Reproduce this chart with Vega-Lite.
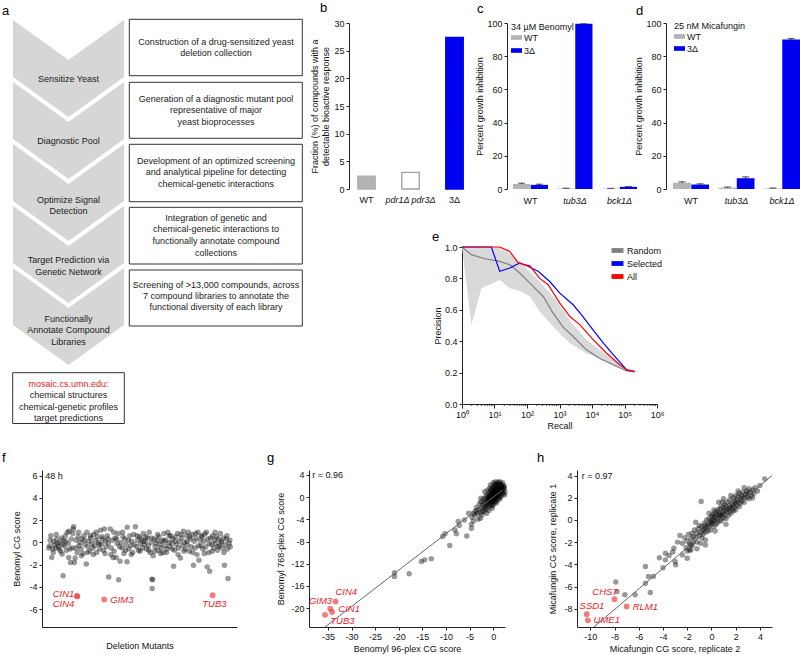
{
  "$schema": "https://vega.github.io/schema/vega-lite/v6.json",
  "background": "white",
  "padding": 0,
  "autosize": {"type": "none"},
  "width": 800,
  "height": 655,
  "resolve": {
    "scale": {"x": "independent", "y": "independent", "fill": "independent", "stroke": "independent", "color": "independent", "xOffset": "independent", "opacity": "independent", "size": "independent"},
    "axis": {"x": "independent", "y": "independent"},
    "legend": {"fill": "independent", "stroke": "independent", "color": "independent"}
  },
  "config": {
    "view": {"stroke": null},
    "font": "Liberation Sans",
    "text": {"font": "Liberation Sans"},
    "axis": {"labelFont": "Liberation Sans", "titleFont": "Liberation Sans", "labelFontSize": 9, "titleFontSize": 9, "titleFontWeight": "normal", "labelColor": "#111", "titleColor": "#111", "domainColor": "#222", "tickColor": "#222", "tickSize": 3, "labelPadding": 2, "grid": false, "labelFlush": false, "labelOverlap": false},
    "legend": {"labelFont": "Liberation Sans", "titleFont": "Liberation Sans", "labelFontSize": 9, "titleFontSize": 9, "titleFontWeight": "normal", "labelColor": "#111", "titleColor": "#111", "padding": 0}
  },
  "layer": [
    {
      "layer": [
        {
          "data": {"values": [
            {"chev": 1, "px": 13, "yt": 20, "yb": 77}, {"chev": 1, "px": 68.5, "yt": 60, "yb": 117}, {"chev": 1, "px": 124, "yt": 20, "yb": 77},
            {"chev": 2, "px": 13, "yt": 82, "yb": 139}, {"chev": 2, "px": 68.5, "yt": 122, "yb": 179}, {"chev": 2, "px": 124, "yt": 82, "yb": 139},
            {"chev": 3, "px": 13, "yt": 144, "yb": 201}, {"chev": 3, "px": 68.5, "yt": 184, "yb": 241}, {"chev": 3, "px": 124, "yt": 144, "yb": 201},
            {"chev": 4, "px": 13, "yt": 206, "yb": 263}, {"chev": 4, "px": 68.5, "yt": 246, "yb": 303}, {"chev": 4, "px": 124, "yt": 206, "yb": 263},
            {"chev": 5, "px": 13, "yt": 268, "yb": 325}, {"chev": 5, "px": 68.5, "yt": 308, "yb": 365}, {"chev": 5, "px": 124, "yt": 268, "yb": 325}
          ]},
          "mark": {"type": "area", "color": "#d6d6d6", "interpolate": "linear"},
          "encoding": {
            "x": {"field": "px", "type": "quantitative", "scale": {"domain": [0, 800], "range": [0, 800], "nice": false, "zero": false}, "axis": null},
            "y": {"field": "yt", "type": "quantitative", "scale": {"domain": [0, 655], "range": [0, 655], "nice": false, "zero": false}, "axis": null, "stack": null},
            "y2": {"field": "yb"},
            "detail": {"field": "chev", "type": "nominal"}
          }
        },
        {
          "data": {"values": [
            {"x1": 129.3, "x2": 302.3, "y1": 19.3, "y2": 75.7},
            {"x1": 129.3, "x2": 302.3, "y1": 82.3, "y2": 138.3},
            {"x1": 129.3, "x2": 302.3, "y1": 144.3, "y2": 201.7},
            {"x1": 129.3, "x2": 302.3, "y1": 207.3, "y2": 264},
            {"x1": 129.3, "x2": 302.3, "y1": 270, "y2": 326},
            {"x1": 12.7, "x2": 124.3, "y1": 372.7, "y2": 423.5}
          ]},
          "mark": {"type": "rect", "fill": "white", "stroke": "#333", "strokeWidth": 1},
          "encoding": {
            "x": {"field": "x1", "type": "quantitative"},
            "x2": {"field": "x2"},
            "y": {"field": "y1", "type": "quantitative"},
            "y2": {"field": "y2"}
          }
        },
        {
          "data": {"values": [
            {"tx": 68.5, "ty": 79, "t": "Sensitize Yeast", "k": "s"},
            {"tx": 68.5, "ty": 140.7, "t": "Diagnostic Pool", "k": "s"},
            {"tx": 68.5, "ty": 199.7, "t": "Optimize Signal", "k": "s"},
            {"tx": 68.5, "ty": 211.2, "t": "Detection", "k": "s"},
            {"tx": 68.5, "ty": 260.3, "t": "Target Prediction via", "k": "s"},
            {"tx": 68.5, "ty": 272, "t": "Genetic Network", "k": "s"},
            {"tx": 68.5, "ty": 318.7, "t": "Functionally", "k": "s"},
            {"tx": 68.5, "ty": 330.3, "t": "Annotate Compound", "k": "s"},
            {"tx": 68.5, "ty": 341.7, "t": "Libraries", "k": "s"},
            {"tx": 216, "ty": 41.7, "t": "Construction of a drug-sensitized yeast", "k": "s"},
            {"tx": 216, "ty": 53.3, "t": "deletion collection", "k": "s"},
            {"tx": 216, "ty": 98.7, "t": "Generation of a diagnostic mutant pool", "k": "s"},
            {"tx": 216, "ty": 110.3, "t": "representative of major", "k": "s"},
            {"tx": 216, "ty": 122, "t": "yeast bioprocesses", "k": "s"},
            {"tx": 216, "ty": 160.7, "t": "Development of an optimized screening", "k": "s"},
            {"tx": 216, "ty": 172.3, "t": "and analytical pipeline for detecting", "k": "s"},
            {"tx": 216, "ty": 184, "t": "chemical-genetic interactions", "k": "s"},
            {"tx": 216, "ty": 217.7, "t": "Integration of genetic and", "k": "s"},
            {"tx": 216, "ty": 229.3, "t": "chemical-genetic interactions to", "k": "s"},
            {"tx": 216, "ty": 241, "t": "functionally annotate compound", "k": "s"},
            {"tx": 216, "ty": 252.7, "t": "collections", "k": "s"},
            {"tx": 216, "ty": 284.7, "t": "Screening of >13,000 compounds, across", "k": "s"},
            {"tx": 216, "ty": 296, "t": "7 compound libraries to annotate the", "k": "s"},
            {"tx": 216, "ty": 307.3, "t": "functional diversity of each library", "k": "s"},
            {"tx": 68.5, "ty": 383.5, "t": "mosaic.cs.umn.edu:", "k": "url"},
            {"tx": 68.5, "ty": 395, "t": "chemical structures", "k": "s"},
            {"tx": 68.5, "ty": 406.5, "t": "chemical-genetic profiles", "k": "s"},
            {"tx": 68.5, "ty": 418, "t": "target predictions", "k": "s"}
          ]},
          "mark": {"type": "text", "fontSize": 9, "align": "center", "baseline": "middle"},
          "encoding": {
            "x": {"field": "tx", "type": "quantitative"},
            "y": {"field": "ty", "type": "quantitative"},
            "text": {"field": "t"},
            "color": {"condition": {"test": "datum.k === 'url'", "value": "#e3201b"}, "value": "#1a1a1a"}
          }
        },
        {
          "data": {"values": [
            {"tx": 2, "ty": 15, "t": "a"}, {"tx": 320, "ty": 12, "t": "b"}, {"tx": 477, "ty": 13, "t": "c"}, {"tx": 636, "ty": 14.5, "t": "d"},
            {"tx": 432, "ty": 240.5, "t": "e"}, {"tx": 2, "ty": 462, "t": "f"}, {"tx": 267, "ty": 462, "t": "g"}, {"tx": 537, "ty": 462, "t": "h"}
          ]},
          "mark": {"type": "text", "fontSize": 13, "align": "left", "baseline": "alphabetic", "color": "#000"},
          "encoding": {
            "x": {"field": "tx", "type": "quantitative"},
            "y": {"field": "ty", "type": "quantitative"},
            "text": {"field": "t"}
          }
        }
      ]
    },
    {
      "data": {"values": [
        {"strain": "WT", "frac": 2.3},
        {"strain": "pdr1Δ pdr3Δ", "frac": 3.0},
        {"strain": "3Δ", "frac": 27.4}
      ]},
      "mark": {"type": "bar", "strokeWidth": 1.3},
      "encoding": {
        "x": {"field": "strain", "type": "nominal", "sort": null,
          "scale": {"range": [349, 507], "paddingInner": 0.602, "paddingOuter": 0.5965, "align": 0.167, "round": false},
          "axis": {"orient": "bottom", "offset": -466, "title": null, "labelAngle": 0, "domain": false, "ticks": false, "labelPadding": 6,
            "labelFontStyle": {"condition": {"test": "datum.value === 'pdr1Δ pdr3Δ'", "value": "italic"}, "value": "normal"}}},
        "y": {"field": "frac", "type": "quantitative", "scale": {"domain": [0, 30], "range": [189, 23], "nice": false},
          "axis": {"orient": "left", "offset": -349, "values": [0, 5, 10, 15, 20, 25, 30], "title": ["Fraction (%) of compounds with a", "detectable bioactive response"], "titlePadding": 3}},
        "fill": {"field": "strain", "type": "nominal", "scale": {"domain": ["WT", "pdr1Δ pdr3Δ", "3Δ"], "range": ["#b3b3b3", "#ffffff", "#0000f0"]}, "legend": null},
        "stroke": {"field": "strain", "type": "nominal", "scale": {"domain": ["WT", "pdr1Δ pdr3Δ", "3Δ"], "range": ["#b3b3b3", "#a0a0a0", "#0000f0"]}, "legend": null}
      }
    },
    {
      "data": {"values": [
        {"strain": "WT", "cond": "WT", "v": 3.0, "e": 3.5},
        {"strain": "WT", "cond": "3Δ", "v": 2.5, "e": 2.9},
        {"strain": "tub3Δ", "cond": "WT", "v": 0.3, "e": 0.5},
        {"strain": "tub3Δ", "cond": "3Δ", "v": 99.5, "e": 99.5},
        {"strain": "bck1Δ", "cond": "WT", "v": 0.2, "e": 0.4},
        {"strain": "bck1Δ", "cond": "3Δ", "v": 1.3, "e": 1.4}
      ]},
      "encoding": {
        "x": {"field": "strain", "type": "nominal", "sort": ["WT", "tub3Δ", "bck1Δ"],
          "scale": {"range": [507, 666], "paddingInner": 0.2135, "paddingOuter": 0.393, "align": 0.171, "round": false},
          "axis": {"orient": "bottom", "offset": -466, "title": null, "labelAngle": 0, "domain": false, "ticks": false, "labelPadding": 7,
            "labelFontStyle": {"condition": {"test": "datum.value !== 'WT'", "value": "italic"}, "value": "normal"}}},
        "xOffset": {"field": "cond", "type": "nominal", "sort": ["WT", "3Δ"], "scale": {"paddingInner": 0.03}}
      },
      "layer": [
        {
          "mark": {"type": "bar"},
          "encoding": {
            "y": {"field": "v", "type": "quantitative", "scale": {"domain": [0, 100], "range": [189, 23], "nice": false},
              "axis": {"orient": "left", "offset": -507, "values": [0, 20, 40, 60, 80, 100], "title": "Percent growth inhibition", "titlePadding": 2}},
            "fill": {"field": "cond", "type": "nominal", "sort": ["WT", "3Δ"], "scale": {"domain": ["WT", "3Δ"], "range": ["#b3b3b3", "#0000f0"]},
              "legend": {"title": "34 µM Benomyl", "orient": "none", "legendX": 511, "legendY": 23, "symbolType": "M-1,-0.42L1,-0.42L1,0.42L-1,0.42Z", "symbolSize": 121, "symbolStrokeWidth": 0, "titlePadding": 0, "rowPadding": 2, "labelOffset": 2, "titleLimit": 200}}
          }
        },
        {
          "mark": {"type": "rule", "color": "#000", "strokeWidth": 1},
          "encoding": {"y": {"field": "v", "type": "quantitative"}, "y2": {"field": "e"}}
        },
        {
          "mark": {"type": "tick", "color": "#000", "thickness": 1, "size": 7},
          "encoding": {"y": {"field": "e", "type": "quantitative"}}
        }
      ]
    },
    {
      "data": {"values": [
        {"strain": "WT", "cond": "WT", "v": 3.8, "e": 4.3},
        {"strain": "WT", "cond": "3Δ", "v": 2.7, "e": 3.1},
        {"strain": "tub3Δ", "cond": "WT", "v": 0.8, "e": 1.2},
        {"strain": "tub3Δ", "cond": "3Δ", "v": 6.5, "e": 7.3},
        {"strain": "bck1Δ", "cond": "WT", "v": 0.3, "e": 0.6},
        {"strain": "bck1Δ", "cond": "3Δ", "v": 90.0, "e": 90.6}
      ]},
      "encoding": {
        "x": {"field": "strain", "type": "nominal", "sort": ["WT", "tub3Δ", "bck1Δ"],
          "scale": {"range": [666, 800], "paddingInner": 0.209, "paddingOuter": 0.077, "align": 1, "round": false},
          "axis": {"orient": "bottom", "offset": -466, "title": null, "labelAngle": 0, "domain": false, "ticks": false, "labelPadding": 7,
            "labelFontStyle": {"condition": {"test": "datum.value !== 'WT'", "value": "italic"}, "value": "normal"}}},
        "xOffset": {"field": "cond", "type": "nominal", "sort": ["WT", "3Δ"], "scale": {"paddingInner": 0.03}}
      },
      "layer": [
        {
          "mark": {"type": "bar"},
          "encoding": {
            "y": {"field": "v", "type": "quantitative", "scale": {"domain": [0, 100], "range": [189, 23], "nice": false},
              "axis": {"orient": "left", "offset": -666, "values": [0, 20, 40, 60, 80, 100], "title": "Percent growth inhibition", "titlePadding": 2}},
            "fill": {"field": "cond", "type": "nominal", "sort": ["WT", "3Δ"], "scale": {"domain": ["WT", "3Δ"], "range": ["#b3b3b3", "#0000f0"]},
              "legend": {"title": "25 nM Micafungin", "orient": "none", "legendX": 674, "legendY": 22, "symbolType": "M-1,-0.42L1,-0.42L1,0.42L-1,0.42Z", "symbolSize": 121, "symbolStrokeWidth": 0, "titlePadding": 0, "rowPadding": 1, "labelOffset": 2, "titleLimit": 200}}
          }
        },
        {
          "mark": {"type": "rule", "color": "#000", "strokeWidth": 1},
          "encoding": {"y": {"field": "v", "type": "quantitative"}, "y2": {"field": "e"}}
        },
        {
          "mark": {"type": "tick", "color": "#000", "thickness": 1, "size": 7},
          "encoding": {"y": {"field": "e", "type": "quantitative"}}
        }
      ]
    },
    {
      "layer": [
        {
          "data": {"values": [
            {"r": 1, "lo": 1, "hi": 1}, {"r": 1.95, "lo": 0.504, "hi": 1}, {"r": 4, "lo": 0.738, "hi": 1},
            {"r": 14.5, "lo": 0.79, "hi": 1}, {"r": 29.5, "lo": 0.738, "hi": 0.96}, {"r": 60, "lo": 0.72, "hi": 0.91},
            {"r": 123, "lo": 0.685, "hi": 0.84}, {"r": 245, "lo": 0.589, "hi": 0.78}, {"r": 794, "lo": 0.472, "hi": 0.66},
            {"r": 2090, "lo": 0.387, "hi": 0.53}, {"r": 6760, "lo": 0.323, "hi": 0.41}, {"r": 28200, "lo": 0.27, "hi": 0.31},
            {"r": 117500, "lo": 0.217, "hi": 0.222}, {"r": 186000, "lo": 0.206, "hi": 0.206}
          ]},
          "mark": {"type": "area", "color": "#d9d9d9"},
          "encoding": {
            "x": {"field": "r", "type": "quantitative", "scale": {"type": "log", "domain": [1, 1000000], "range": [462, 657], "nice": false},
              "axis": {"orient": "bottom", "offset": -251, "values": [1, 10, 100, 1000, 10000, 100000, 1000000], "labelExpr": "'10' + ['⁰','¹','²','³','⁴','⁵','⁶'][round(log(datum.value)/LN10)]", "title": "Recall", "tickSize": 4, "titlePadding": 2}},
            "y": {"field": "lo", "type": "quantitative", "scale": {"domain": [0, 1], "range": [404, 247], "nice": false}, "stack": null,
              "axis": {"orient": "left", "offset": -462, "values": [0, 0.2, 0.4, 0.6, 0.8, 1], "format": ".1f", "title": "Precision", "titlePadding": 2}},
            "y2": {"field": "hi"}
          }
        },
        {
          "data": {"values": [
            {"m": 2}, {"m": 3}, {"m": 4}, {"m": 5}, {"m": 6}, {"m": 7}, {"m": 8}, {"m": 9},
            {"m": 20}, {"m": 30}, {"m": 40}, {"m": 50}, {"m": 60}, {"m": 70}, {"m": 80}, {"m": 90},
            {"m": 200}, {"m": 300}, {"m": 400}, {"m": 500}, {"m": 600}, {"m": 700}, {"m": 800}, {"m": 900},
            {"m": 2000}, {"m": 3000}, {"m": 4000}, {"m": 5000}, {"m": 6000}, {"m": 7000}, {"m": 8000}, {"m": 9000},
            {"m": 20000}, {"m": 30000}, {"m": 40000}, {"m": 50000}, {"m": 60000}, {"m": 70000}, {"m": 80000}, {"m": 90000},
            {"m": 200000}, {"m": 300000}, {"m": 400000}, {"m": 500000}, {"m": 600000}, {"m": 700000}, {"m": 800000}, {"m": 900000}
          ]},
          "mark": {"type": "rule", "color": "#222", "strokeWidth": 0.8},
          "encoding": {
            "x": {"field": "m", "type": "quantitative"},
            "y": {"datum": 0, "type": "quantitative"},
            "y2": {"datum": -0.013}
          }
        },
        {
          "data": {"values": [
            {"r": 1, "p": 1, "s": "Random"}, {"r": 1.95, "p": 0.951, "s": "Random"}, {"r": 5, "p": 0.925, "s": "Random"}, {"r": 14.5, "p": 0.908, "s": "Random"},
            {"r": 29.5, "p": 0.887, "s": "Random"}, {"r": 60, "p": 0.834, "s": "Random"}, {"r": 123, "p": 0.77, "s": "Random"}, {"r": 316, "p": 0.685, "s": "Random"},
            {"r": 631, "p": 0.58, "s": "Random"}, {"r": 1290, "p": 0.49, "s": "Random"}, {"r": 2630, "p": 0.43, "s": "Random"}, {"r": 6760, "p": 0.345, "s": "Random"},
            {"r": 17400, "p": 0.29, "s": "Random"}, {"r": 45700, "p": 0.249, "s": "Random"}, {"r": 117500, "p": 0.21, "s": "Random"}, {"r": 186000, "p": 0.206, "s": "Random"},
            {"r": 1, "p": 1, "s": "Selected"}, {"r": 8, "p": 1, "s": "Selected"}, {"r": 14.5, "p": 0.845, "s": "Selected"}, {"r": 29.5, "p": 0.866, "s": "Selected"},
            {"r": 60, "p": 0.898, "s": "Selected"}, {"r": 107, "p": 0.877, "s": "Selected"}, {"r": 219, "p": 0.845, "s": "Selected"}, {"r": 501, "p": 0.78, "s": "Selected"},
            {"r": 1023, "p": 0.706, "s": "Selected"}, {"r": 2630, "p": 0.632, "s": "Selected"}, {"r": 4790, "p": 0.568, "s": "Selected"}, {"r": 9770, "p": 0.483, "s": "Selected"},
            {"r": 22400, "p": 0.387, "s": "Selected"}, {"r": 45700, "p": 0.313, "s": "Selected"}, {"r": 117500, "p": 0.217, "s": "Selected"}, {"r": 209000, "p": 0.206, "s": "Selected"},
            {"r": 1, "p": 1, "s": "All"}, {"r": 14.5, "p": 1, "s": "All"}, {"r": 29.5, "p": 0.972, "s": "All"}, {"r": 54, "p": 0.898, "s": "All"},
            {"r": 123, "p": 0.88, "s": "All"}, {"r": 245, "p": 0.8, "s": "All"}, {"r": 447, "p": 0.76, "s": "All"}, {"r": 1023, "p": 0.643, "s": "All"},
            {"r": 2090, "p": 0.557, "s": "All"}, {"r": 4270, "p": 0.504, "s": "All"}, {"r": 11000, "p": 0.408, "s": "All"}, {"r": 28200, "p": 0.323, "s": "All"},
            {"r": 72400, "p": 0.249, "s": "All"}, {"r": 117500, "p": 0.217, "s": "All"}, {"r": 209000, "p": 0.206, "s": "All"}
          ]},
          "mark": {"type": "line", "strokeWidth": 1.2},
          "encoding": {
            "x": {"field": "r", "type": "quantitative"},
            "y": {"field": "p", "type": "quantitative"},
            "color": {"field": "s", "type": "nominal", "sort": ["Random", "Selected", "All"], "scale": {"domain": ["Random", "Selected", "All"], "range": ["#808080", "#0000ff", "#ff0000"]},
              "legend": {"title": null, "orient": "none", "legendX": 613, "legendY": 246, "symbolType": "M-1.6,-0.4L1.6,-0.4L1.6,0.4L-1.6,0.4Z", "symbolSize": 36, "symbolStrokeWidth": 2.4, "rowPadding": 0, "labelOffset": 5}}
          }
        }
      ]
    },
    {
      "layer": [
        {
          "data": {"values": [
            {"i":3.5,"s":-0.5},{"i":4,"s":-0.3},{"i":4.5,"s":0.6},{"i":5,"s":-1.35},{"i":5.5,"s":-0.6},{"i":6,"s":0.1},{"i":6.5,"s":-0.2},{"i":7,"s":-0.5},{"i":7.5,"s":0.3},{"i":8,"s":-0.1},
            {"i":8.5,"s":-0.4},{"i":9,"s":0},{"i":9.5,"s":-0.8},{"i":10,"s":0.4},{"i":10.3,"s":-1.05},{"i":10.8,"s":-3},{"i":11,"s":0.2},{"i":11.5,"s":-0.3},{"i":12,"s":0.6},{"i":12.5,"s":-0.7},
            {"i":13,"s":0.9},{"i":13.5,"s":-0.1},{"i":13.7,"s":-1.35},{"i":14,"s":1},{"i":14.6,"s":-1.8},{"i":15,"s":0.3},{"i":15.5,"s":-0.5},{"i":16,"s":1.2},{"i":16.2,"s":1.4},{"i":16.6,"s":-1.8},
            {"i":17,"s":-1.4},{"i":17.5,"s":0.2},{"i":18,"s":-0.9},{"i":18.5,"s":0.5},{"i":19,"s":-0.3},{"i":19.5,"s":0},{"i":20,"s":-0.6},{"i":20.5,"s":0.3},{"i":21,"s":-1},{"i":21.5,"s":0.6},
            {"i":22,"s":-0.2},{"i":22.7,"s":-1.95},{"i":23,"s":0.9},{"i":23.5,"s":-0.4},{"i":24,"s":0.1},{"i":24.5,"s":-0.8},{"i":25,"s":0.4},{"i":25.5,"s":-0.1},{"i":26,"s":-0.5},{"i":26.5,"s":0.7},
            {"i":27,"s":-0.3},{"i":27.5,"s":0.2},{"i":28,"s":-0.9},{"i":28.5,"s":0.5},{"i":29,"s":0},{"i":29.5,"s":-0.6},{"i":30,"s":1.1},{"i":30.5,"s":-0.2},{"i":31,"s":0.3},{"i":31.5,"s":-0.7},
            {"i":32,"s":1.2},{"i":32.5,"s":0.1},{"i":33,"s":-0.4},{"i":33.5,"s":0.6},{"i":34,"s":-0.1},{"i":34.2,"s":-3.1},{"i":35,"s":1.2},{"i":35.5,"s":-0.5},{"i":36,"s":0.2},{"i":36.4,"s":-1.35},
            {"i":37,"s":-0.8},{"i":37.5,"s":0.4},{"i":38,"s":-1.35},{"i":38.5,"s":-0.1},{"i":39,"s":0.8},{"i":39.3,"s":-3.35},{"i":40,"s":-1.7},{"i":40.5,"s":0},{"i":41,"s":-0.5},{"i":41.5,"s":0.5},
            {"i":42,"s":-1},{"i":42.5,"s":0.3},{"i":43,"s":-0.2},{"i":43.6,"s":-1.75},{"i":43.7,"s":1.35},{"i":44.5,"s":-0.6},{"i":45,"s":0.6},{"i":45.5,"s":-0.3},{"i":46,"s":0.1},{"i":46.5,"s":-0.9},
            {"i":47,"s":0.7},{"i":47.9,"s":1.4},{"i":48.5,"s":-0.4},{"i":49,"s":0.2},{"i":49.5,"s":-0.7},{"i":50,"s":0.5},{"i":50.5,"s":-0.1},{"i":51,"s":0.3},{"i":51.5,"s":-0.5},{"i":52,"s":0.8},
            {"i":52.5,"s":-0.2},{"i":53,"s":0.1},{"i":53.5,"s":-0.6},{"i":54,"s":0.4},{"i":54.5,"s":-0.3},{"i":55,"s":0.9},{"i":55.5,"s":-0.9},{"i":56,"s":0},{"i":56.4,"s":-3.3},{"i":56.7,"s":-3.35},
            {"i":56.5,"s":-4.15},{"i":57,"s":-1.2},{"i":57.5,"s":0.3},{"i":58,"s":-0.4},{"i":58.5,"s":-0.1},{"i":59,"s":0.2},{"i":59.5,"s":-0.7},{"i":60,"s":0.5},{"i":60.5,"s":-0.2},{"i":61,"s":-0.5},
            {"i":61.5,"s":0.1},{"i":62,"s":-0.9},{"i":62.5,"s":0.8},{"i":63,"s":-0.3},{"i":63.5,"s":0.2},{"i":64,"s":-0.6},{"i":64.5,"s":0.9},{"i":65,"s":0},{"i":65.5,"s":-0.4},{"i":66,"s":0.6},
            {"i":66.5,"s":-0.1},{"i":67,"s":0.3},{"i":67.5,"s":-2.15},{"i":68,"s":-0.7},{"i":68.5,"s":0.5},{"i":69,"s":-0.2},{"i":69.5,"s":0.8},{"i":70,"s":-0.5},{"i":70.5,"s":0.1},{"i":71,"s":-1.4},
            {"i":71.5,"s":0.4},{"i":72,"s":-0.3},{"i":72.5,"s":1},{"i":73,"s":0},{"i":73.5,"s":-0.6},{"i":74,"s":0.6},{"i":74.5,"s":-0.2},{"i":75,"s":0.9},{"i":75.5,"s":-0.8},{"i":76,"s":0.3},
            {"i":76.5,"s":-0.4},{"i":77,"s":0.7},{"i":77.7,"s":-2.05},{"i":78,"s":0.1},{"i":78.5,"s":-0.5},{"i":79,"s":0.4},{"i":79.5,"s":-1.1},{"i":80,"s":0.9},{"i":80.5,"s":-1.6},{"i":81,"s":0.2},
            {"i":81.5,"s":-0.3},{"i":82,"s":0.5},{"i":82.5,"s":-0.6},{"i":83,"s":0.1},{"i":83.5,"s":0.75},{"i":84,"s":-0.4},{"i":84.7,"s":-2.2},{"i":85,"s":0.3},{"i":85.5,"s":-0.9},{"i":86,"s":-2.6},
            {"i":86.5,"s":0.4},{"i":87,"s":-0.2},{"i":87.5,"s":0.6},{"i":88,"s":-0.5},{"i":88.5,"s":0.2},{"i":89,"s":-0.1},{"i":89.5,"s":0.5},{"i":90,"s":-0.7},{"i":90.5,"s":0.3},{"i":91,"s":-0.3},
            {"i":91.5,"s":0.8},{"i":92,"s":0},{"i":92.5,"s":-0.5},{"i":93,"s":0.4},{"i":93.6,"s":-2.05},{"i":94,"s":-0.2},{"i":94.5,"s":0.3},{"i":95,"s":-0.6},{"i":95.4,"s":-3.25},{"i":96,"s":-0.1},{"i":96.5,"s":-0.4},
            {"i":4.2,"s":0.2},{"i":5.8,"s":-0.9},{"i":7.3,"s":0.7},{"i":8.8,"s":-0.6},{"i":10.6,"s":-0.2},{"i":12.2,"s":0.1},{"i":14.3,"s":-0.6},{"i":15.8,"s":0.8},{"i":17.3,"s":-0.5},{"i":18.8,"s":0.9},
            {"i":20.3,"s":-1.2},{"i":21.8,"s":0.2},{"i":23.3,"s":-0.9},{"i":24.8,"s":0.6},{"i":26.3,"s":-1.1},{"i":27.8,"s":0.9},{"i":29.3,"s":-0.2},{"i":30.8,"s":0.5},{"i":32.3,"s":-1.0},{"i":33.8,"s":0.3},
            {"i":35.3,"s":-1.1},{"i":36.8,"s":0.9},{"i":38.3,"s":0.3},{"i":39.8,"s":-0.4},{"i":41.3,"s":0.9},{"i":42.8,"s":-0.7},{"i":44.3,"s":0.2},{"i":45.8,"s":-1.1},{"i":47.3,"s":-0.2},{"i":48.8,"s":0.6},
            {"i":50.3,"s":-0.8},{"i":51.8,"s":0.1},{"i":53.3,"s":0.5},{"i":54.8,"s":-0.7},{"i":56.2,"s":0.4},{"i":57.8,"s":-0.8},{"i":59.3,"s":0.7},{"i":60.8,"s":-1.0},{"i":62.3,"s":0.2},{"i":63.8,"s":-0.9},
            {"i":65.3,"s":0.6},{"i":66.8,"s":-0.6},{"i":68.3,"s":0.1},{"i":69.8,"s":-1.1},{"i":71.3,"s":0.7},{"i":72.8,"s":-0.8},{"i":74.3,"s":0.1},{"i":75.8,"s":0.5},{"i":77.3,"s":-0.9},{"i":78.8,"s":0.8},
            {"i":80.3,"s":-0.3},{"i":81.8,"s":0.6},{"i":83.3,"s":-1.0},{"i":84.3,"s":0.9},{"i":85.8,"s":-0.1},{"i":87.3,"s":-0.8},{"i":88.8,"s":0.9},{"i":90.3,"s":-0.4},{"i":91.8,"s":0.1},{"i":93.3,"s":-0.9},
            {"i":94.8,"s":0.6},{"i":96.3,"s":0.2}
          ]},
          "mark": {"type": "circle", "color": "#000", "opacity": 0.4, "size": 30},
          "encoding": {
            "x": {"field": "i", "type": "quantitative", "scale": {"domain": [0, 100], "range": [42, 237], "nice": false, "zero": false},
              "axis": {"orient": "bottom", "offset": -28, "title": "Deletion Mutants", "labels": false, "ticks": false, "titlePadding": 14}},
            "y": {"field": "s", "type": "quantitative", "scale": {"domain": [-7.6, 6.5], "range": [627, 470], "nice": false, "zero": false},
              "axis": {"orient": "left", "offset": -42, "values": [-6, -4, -2, 0, 2, 4, 6], "labelExpr": "'' + datum.value", "title": "Benomyl CG score", "titlePadding": 7}}
          }
        },
        {
          "mark": {"type": "rule", "color": "#999", "strokeWidth": 1},
          "encoding": {"x": {"datum": 0, "type": "quantitative"}, "x2": {"datum": 100}, "y": {"datum": 0, "type": "quantitative"}}
        },
        {
          "data": {"values": [{"i": 17.9, "s": -4.8}, {"i": 18.1, "s": -4.85}, {"i": 31.9, "s": -5.13}, {"i": 87.5, "s": -4.74}]},
          "mark": {"type": "circle", "color": "#ee4444", "opacity": 0.7, "size": 34},
          "encoding": {"x": {"field": "i", "type": "quantitative"}, "y": {"field": "s", "type": "quantitative"}}
        },
        {
          "data": {"values": [{"i": 16.6, "s": -4.6, "t": "CIN1"}, {"i": 16.6, "s": -5.5, "t": "CIN4"}]},
          "mark": {"type": "text", "align": "right", "baseline": "middle", "fontStyle": "italic", "fontSize": 9.5, "color": "#e8232a"},
          "encoding": {"x": {"field": "i", "type": "quantitative"}, "y": {"field": "s", "type": "quantitative"}, "text": {"field": "t"}}
        },
        {
          "data": {"values": [{"i": 35, "s": -5.2, "t": "GIM3"}]},
          "mark": {"type": "text", "align": "left", "baseline": "middle", "fontStyle": "italic", "fontSize": 9.5, "color": "#e8232a"},
          "encoding": {"x": {"field": "i", "type": "quantitative"}, "y": {"field": "s", "type": "quantitative"}, "text": {"field": "t"}}
        },
        {
          "data": {"values": [{"i": 88.4, "s": -5.55, "t": "TUB3"}]},
          "mark": {"type": "text", "align": "center", "baseline": "middle", "fontStyle": "italic", "fontSize": 9.5, "color": "#e8232a"},
          "encoding": {"x": {"field": "i", "type": "quantitative"}, "y": {"field": "s", "type": "quantitative"}, "text": {"field": "t"}}
        },
        {
          "data": {"values": [{"i": 1.7, "s": 6.0, "t": "48 h"}]},
          "mark": {"type": "text", "align": "left", "baseline": "middle", "fontSize": 9, "color": "#111"},
          "encoding": {"x": {"field": "i", "type": "quantitative"}, "y": {"field": "s", "type": "quantitative"}, "text": {"field": "t"}}
        }
      ]
    },
    {
      "layer": [
        {
          "data": {"values": [
            {"a":-3.8,"b":-2.6},{"a":-3.5,"b":-1.8},{"a":-3.3,"b":-3.0},{"a":-3.0,"b":-2.2},{"a":-2.9,"b":-1.2},{"a":-2.7,"b":-2.8},{"a":-2.6,"b":-0.8},{"a":-2.5,"b":-1.9},{"a":-2.3,"b":-1.4},{"a":-2.2,"b":-2.5},
            {"a":-2.1,"b":-0.4},{"a":-2.0,"b":-1.1},{"a":-1.9,"b":-2.0},{"a":-1.8,"b":-0.2},{"a":-1.7,"b":-1.5},{"a":-1.6,"b":-0.9},{"a":-1.5,"b":0.3},{"a":-1.5,"b":-2.2},{"a":-1.4,"b":-0.6},{"a":-1.3,"b":-1.3},
            {"a":-1.2,"b":0.1},{"a":-1.2,"b":-1.8},{"a":-1.1,"b":-0.3},{"a":-1.0,"b":0.6},{"a":-1.0,"b":-1.0},{"a":-0.9,"b":-0.6},{"a":-0.9,"b":-2.4},{"a":-0.8,"b":0.2},{"a":-0.8,"b":-1.4},{"a":-0.7,"b":0.9},
            {"a":-0.7,"b":-0.4},{"a":-0.6,"b":-0.9},{"a":-0.6,"b":0.4},{"a":-0.5,"b":-0.1},{"a":-0.5,"b":1.2},{"a":-0.5,"b":-1.6},{"a":-0.4,"b":0.6},{"a":-0.4,"b":-0.6},{"a":-0.3,"b":0.1},{"a":-0.3,"b":1.5},
            {"a":-0.3,"b":-1.1},{"a":-0.2,"b":-0.3},{"a":-0.2,"b":0.9},{"a":-0.2,"b":-2.0},{"a":-0.1,"b":0.4},{"a":-0.1,"b":-0.8},{"a":-0.1,"b":1.9},{"a":0.0,"b":0.0},{"a":0.0,"b":-0.5},{"a":0.0,"b":1.1},
            {"a":0.0,"b":2.6},{"a":0.1,"b":0.6},{"a":0.1,"b":-1.3},{"a":0.1,"b":0.2},{"a":0.2,"b":1.5},{"a":0.2,"b":-0.2},{"a":0.2,"b":0.8},{"a":0.3,"b":0.3},{"a":0.3,"b":-0.9},{"a":0.3,"b":2.1},
            {"a":0.4,"b":1.0},{"a":0.4,"b":-0.4},{"a":0.4,"b":0.5},{"a":0.5,"b":1.7},{"a":0.5,"b":0.0},{"a":0.5,"b":2.8},{"a":0.6,"b":0.8},{"a":0.6,"b":-0.7},{"a":0.6,"b":1.3},{"a":0.7,"b":0.2},
            {"a":0.7,"b":2.3},{"a":0.8,"b":1.1},{"a":0.8,"b":-0.2},{"a":0.9,"b":0.6},{"a":0.9,"b":1.8},{"a":1.0,"b":0.1},{"a":1.0,"b":1.2},{"a":1.0,"b":2.7},{"a":1.1,"b":0.8},{"a":1.1,"b":-0.5},
            {"a":1.2,"b":1.5},{"a":1.2,"b":0.4},{"a":1.3,"b":2.1},{"a":1.3,"b":0.9},{"a":1.4,"b":0.0},{"a":1.4,"b":1.4},{"a":1.5,"b":2.4},{"a":1.5,"b":0.7},{"a":1.6,"b":1.1},{"a":1.7,"b":1.8},
            {"a":1.7,"b":0.3},{"a":1.8,"b":1.4},{"a":1.9,"b":2.2},{"a":1.9,"b":0.8},{"a":2.0,"b":1.2},{"a":2.1,"b":1.9},{"a":2.2,"b":0.6},{"a":2.3,"b":1.5},{"a":2.4,"b":2.0},{"a":2.5,"b":1.0},
            {"a":-4.5,"b":-3.6},{"a":-4.2,"b":-2.9},{"a":-2.4,"b":-3.2},{"a":-1.4,"b":-2.9},{"a":1.4,"b":2.8},{"a":2.0,"b":2.6},{"a":-0.6,"b":2.2},{"a":-1.8,"b":1.0},{"a":-1.2,"b":1.3},{"a":-2.6,"b":-0.2},
            {"a":-0.4,"b":-0.2},{"a":0.2,"b":0.4},{"a":0.6,"b":0.3},{"a":-0.1,"b":0.9},{"a":0.9,"b":1.1},{"a":0.3,"b":1.3},{"a":-0.6,"b":-0.4},{"a":0.0,"b":0.6},{"a":1.1,"b":1.7},{"a":0.5,"b":0.5},
            {"a":-0.3,"b":0.4},{"a":0.8,"b":0.6},{"a":1.6,"b":1.6},{"a":0.1,"b":-0.6},{"a":-0.9,"b":-0.1},{"a":0.4,"b":2.4},{"a":1.2,"b":2.5},{"a":1.8,"b":2.0},{"a":2.2,"b":1.6},{"a":-1.1,"b":-0.8},
            {"a":-1.6,"b":-1.6},{"a":-0.2,"b":-1.5},{"a":0.7,"b":-1.0},{"a":1.5,"b":-0.2},{"a":2.4,"b":0.4},{"a":-2.0,"b":-2.6},{"a":0.9,"b":2.2},{"a":0.2,"b":1.8},{"a":-0.7,"b":1.6},{"a":1.0,"b":0.5},
            {"a":-20.9,"b":-13.6},{"a":-20.9,"b":-14.3},{"a":-17.8,"b":-13.8},{"a":-15.2,"b":-11.6},{"a":-14.5,"b":-11.3},{"a":-13.1,"b":-11.1},{"a":-10.7,"b":-7.1},{"a":-10.2,"b":-6.6},{"a":-9.2,"b":-8.7},{"a":-8.1,"b":-5.9},
            {"a":-7.8,"b":-6.6},{"a":-7.4,"b":-4.4},{"a":-7.2,"b":-5.1},{"a":-5.6,"b":-7.0},{"a":-4.6,"b":-5.6},{"a":-4.6,"b":-4.9},{"a":-4.2,"b":-4.3},{"a":-3.9,"b":-3.2},{"a":-3.5,"b":-2.4},{"a":-3.2,"b":-4.0},
            {"a":-2.7,"b":-3.8},{"a":-5.2,"b":-2.9},{"a":-6.1,"b":-4.1}
          ]},
          "mark": {"type": "circle", "color": "#000", "opacity": 0.4, "size": 30},
          "encoding": {
            "x": {"field": "a", "type": "quantitative", "scale": {"domain": [-39, 2.5], "range": [309, 505], "nice": false, "zero": false},
              "axis": {"orient": "bottom", "offset": -28, "values": [-35, -30, -25, -20, -15, -10, -5, 0], "labelExpr": "'' + datum.value", "title": "Benomyl 96-plex CG score", "titlePadding": 3}},
            "y": {"field": "b", "type": "quantitative", "scale": {"domain": [-23.4, 4.9], "range": [627, 470], "nice": false, "zero": false},
              "axis": {"orient": "left", "offset": -309, "values": [-20, -16, -12, -8, -4, 0, 4], "labelExpr": "'' + datum.value", "title": "Benomyl 768-plex CG score", "titlePadding": 5}}
          }
        },
        {
          "data": {"values": [{"a1": -35.6, "b1": -23.4, "a2": 2.0, "b2": 1.3}]},
          "mark": {"type": "rule", "color": "#666", "strokeWidth": 1},
          "encoding": {"x": {"field": "a1", "type": "quantitative"}, "y": {"field": "b1", "type": "quantitative"}, "x2": {"field": "a2"}, "y2": {"field": "b2"}}
        },
        {
          "data": {"values": [{"a": -35.6, "b": -21.2}, {"a": -34.5, "b": -20.1}, {"a": -34.1, "b": -20.7}, {"a": -33.4, "b": -18.8}]},
          "mark": {"type": "circle", "color": "#ee4444", "opacity": 0.7, "size": 34},
          "encoding": {"x": {"field": "a", "type": "quantitative"}, "y": {"field": "b", "type": "quantitative"}}
        },
        {
          "data": {"values": [{"a": -33.4, "b": -17.1, "t": "CIN4"}, {"a": -32.8, "b": -20.1, "t": "CIN1"}, {"a": -34.5, "b": -22.3, "t": "TUB3"}]},
          "mark": {"type": "text", "align": "left", "baseline": "middle", "fontStyle": "italic", "fontSize": 9.5, "color": "#e8232a"},
          "encoding": {"x": {"field": "a", "type": "quantitative"}, "y": {"field": "b", "type": "quantitative"}, "text": {"field": "t"}}
        },
        {
          "data": {"values": [{"a": -34.1, "b": -18.8, "t": "GIM3"}]},
          "mark": {"type": "text", "align": "right", "baseline": "middle", "fontStyle": "italic", "fontSize": 9.5, "color": "#e8232a"},
          "encoding": {"x": {"field": "a", "type": "quantitative"}, "y": {"field": "b", "type": "quantitative"}, "text": {"field": "t"}}
        },
        {
          "data": {"values": [{"a": -38.3, "b": 4.0, "t": "r = 0.96"}]},
          "mark": {"type": "text", "align": "left", "baseline": "middle", "fontSize": 9, "color": "#111"},
          "encoding": {"x": {"field": "a", "type": "quantitative"}, "y": {"field": "b", "type": "quantitative"}, "text": {"field": "t"}}
        }
      ]
    },
    {
      "layer": [
        {
          "data": {"values": [
            {"a":-2.4,"b":-2.1},{"a":-2.2,"b":-1.6},{"a":-2.1,"b":-2.5},{"a":-2.0,"b":-1.9},{"a":-1.9,"b":-1.3},{"a":-1.8,"b":-2.2},{"a":-1.7,"b":-1.7},{"a":-1.6,"b":-1.2},{"a":-1.5,"b":-2.0},{"a":-1.5,"b":-1.5},
            {"a":-1.4,"b":-0.9},{"a":-1.3,"b":-1.6},{"a":-1.2,"b":-1.2},{"a":-1.2,"b":-2.0},{"a":-1.1,"b":-0.8},{"a":-1.0,"b":-1.4},{"a":-1.0,"b":-0.5},{"a":-0.9,"b":-1.1},{"a":-0.8,"b":-1.6},{"a":-0.8,"b":-0.6},
            {"a":-0.7,"b":-0.9},{"a":-0.7,"b":-1.3},{"a":-0.6,"b":-0.3},{"a":-0.6,"b":-0.8},{"a":-0.5,"b":-1.1},{"a":-0.5,"b":-0.5},{"a":-0.4,"b":0.0},{"a":-0.4,"b":-0.7},{"a":-0.3,"b":-0.4},{"a":-0.3,"b":-1.0},
            {"a":-0.2,"b":0.1},{"a":-0.2,"b":-0.6},{"a":-0.1,"b":-0.2},{"a":-0.1,"b":-0.9},{"a":0.0,"b":0.3},{"a":0.0,"b":-0.4},{"a":0.0,"b":-0.1},{"a":0.1,"b":0.5},{"a":0.1,"b":-0.3},{"a":0.1,"b":0.0},
            {"a":0.2,"b":-0.6},{"a":0.2,"b":0.3},{"a":0.3,"b":0.7},{"a":0.3,"b":-0.1},{"a":0.3,"b":0.2},{"a":0.4,"b":-0.4},{"a":0.4,"b":0.5},{"a":0.5,"b":0.1},{"a":0.5,"b":0.9},{"a":0.5,"b":-0.2},
            {"a":0.6,"b":0.4},{"a":0.6,"b":0.7},{"a":0.7,"b":0.0},{"a":0.7,"b":1.0},{"a":0.7,"b":0.5},{"a":0.8,"b":0.3},{"a":0.8,"b":1.2},{"a":0.8,"b":-0.1},{"a":0.9,"b":0.7},{"a":0.9,"b":0.4},
            {"a":1.0,"b":1.1},{"a":1.0,"b":0.2},{"a":1.0,"b":0.8},{"a":1.1,"b":1.4},{"a":1.1,"b":0.5},{"a":1.2,"b":0.9},{"a":1.2,"b":0.1},{"a":1.2,"b":1.2},{"a":1.3,"b":0.7},{"a":1.3,"b":1.6},
            {"a":1.4,"b":1.0},{"a":1.4,"b":0.4},{"a":1.5,"b":1.3},{"a":1.5,"b":0.8},{"a":1.5,"b":1.8},{"a":1.6,"b":1.1},{"a":1.6,"b":0.6},{"a":1.7,"b":1.5},{"a":1.7,"b":1.0},{"a":1.8,"b":2.0},
            {"a":1.8,"b":1.3},{"a":1.8,"b":0.8},{"a":1.9,"b":1.7},{"a":1.9,"b":1.1},{"a":2.0,"b":1.5},{"a":2.0,"b":2.2},{"a":2.0,"b":0.9},{"a":2.1,"b":1.8},{"a":2.1,"b":1.3},{"a":2.2,"b":2.1},
            {"a":2.2,"b":1.6},{"a":2.3,"b":1.2},{"a":2.3,"b":2.4},{"a":2.4,"b":1.9},{"a":2.4,"b":1.5},{"a":2.5,"b":2.2},{"a":2.5,"b":1.7},{"a":2.6,"b":2.5},{"a":2.6,"b":2.0},{"a":2.7,"b":1.6},
            {"a":2.8,"b":2.3},{"a":2.8,"b":2.0},{"a":2.9,"b":2.6},{"a":3.0,"b":2.1},{"a":3.0,"b":2.4},{"a":3.1,"b":1.9},{"a":3.2,"b":2.5},{"a":3.3,"b":2.2},{"a":3.4,"b":2.7},{"a":3.5,"b":2.4},
            {"a":3.6,"b":2.9},{"a":3.8,"b":2.6},{"a":4.0,"b":3.1},{"a":4.4,"b":3.7},{"a":-0.85,"b":1.66},{"a":-1.8,"b":-2.7},{"a":-1.6,"b":-2.3},{"a":-0.9,"b":-2.1},{"a":-0.5,"b":-1.8},{"a":0.3,"b":-1.0},
            {"a":1.2,"b":-0.4},{"a":0.6,"b":1.6},{"a":-1.3,"b":-0.2},{"a":2.7,"b":2.9},{"a":3.1,"b":2.8},{"a":1.0,"b":1.9},{"a":-2.6,"b":-1.4},{"a":-2.8,"b":-2.0},{"a":0.2,"b":0.9},{"a":1.6,"b":2.2},
            {"a":0.9,"b":1.6},{"a":2.2,"b":2.6},{"a":3.4,"b":2.0},{"a":-0.2,"b":0.6},{"a":-3.2,"b":-2.9},{"a":-2.0,"b":-2.8},
            {"a":-3.8,"b":-3.0},{"a":-3.1,"b":-2.55},{"a":-3.8,"b":-3.6},{"a":-3.0,"b":-3.75},{"a":-2.95,"b":-4.05},{"a":-2.4,"b":-3.15},{"a":-2.0,"b":-3.45},{"a":-1.7,"b":-2.7},{"a":-1.7,"b":-2.25},{"a":-0.5,"b":-2.25},
            {"a":-4.0,"b":-4.3},{"a":-5.45,"b":-4.2},{"a":-5.2,"b":-5.1},{"a":-4.8,"b":-5.1},{"a":-5.45,"b":-5.7},{"a":-5.05,"b":-6.55},{"a":-7.9,"b":-5.6},{"a":-7.8,"b":-6.45},{"a":-7.15,"b":-6.75},{"a":-6.3,"b":-6.75},
            {"a":-4.3,"b":-3.4},{"a":-3.5,"b":-3.2},{"a":-1.2,"b":-2.6}
          ]},
          "mark": {"type": "circle", "color": "#000", "opacity": 0.4, "size": 30},
          "encoding": {
            "x": {"field": "a", "type": "quantitative", "scale": {"domain": [-11.1, 5], "range": [577, 772], "nice": false, "zero": false},
              "axis": {"orient": "bottom", "offset": -28, "values": [-10, -8, -6, -4, -2, 0, 2, 4], "labelExpr": "'' + datum.value", "title": "Micafungin CG score, replicate 2", "titlePadding": 3}},
            "y": {"field": "b", "type": "quantitative", "scale": {"domain": [-9.65, 4.5], "range": [627, 470], "nice": false, "zero": false},
              "axis": {"orient": "left", "offset": -577, "values": [-8, -6, -4, -2, 0, 2, 4], "labelExpr": "'' + datum.value", "title": "Micafungin CG score, replicate 1", "titlePadding": 6}}
          }
        },
        {
          "data": {"values": [{"a1": -9.7, "b1": -9.65, "a2": 5.0, "b2": 4.0}]},
          "mark": {"type": "rule", "color": "#666", "strokeWidth": 1},
          "encoding": {"x": {"field": "a1", "type": "quantitative"}, "y": {"field": "b1", "type": "quantitative"}, "x2": {"field": "a2"}, "y2": {"field": "b2"}}
        },
        {
          "data": {"values": [{"a": -8.0, "b": -7.15}, {"a": -7.0, "b": -7.8}, {"a": -10.3, "b": -8.5}, {"a": -10.2, "b": -9.05}]},
          "mark": {"type": "circle", "color": "#ee4444", "opacity": 0.7, "size": 34},
          "encoding": {"x": {"field": "a", "type": "quantitative"}, "y": {"field": "b", "type": "quantitative"}}
        },
        {
          "data": {"values": [{"a": -7.74, "b": -6.5, "t": "CHS7"}, {"a": -8.84, "b": -7.74, "t": "SSD1"}]},
          "mark": {"type": "text", "align": "right", "baseline": "middle", "fontStyle": "italic", "fontSize": 9.5, "color": "#e8232a"},
          "encoding": {"x": {"field": "a", "type": "quantitative"}, "y": {"field": "b", "type": "quantitative"}, "text": {"field": "t"}}
        },
        {
          "data": {"values": [{"a": -6.5, "b": -7.86, "t": "RLM1"}, {"a": -9.73, "b": -9.06, "t": "UME1"}]},
          "mark": {"type": "text", "align": "left", "baseline": "middle", "fontStyle": "italic", "fontSize": 9.5, "color": "#e8232a"},
          "encoding": {"x": {"field": "a", "type": "quantitative"}, "y": {"field": "b", "type": "quantitative"}, "text": {"field": "t"}}
        },
        {
          "data": {"values": [{"a": -10.7, "b": 4.0, "t": "r = 0.97"}]},
          "mark": {"type": "text", "align": "left", "baseline": "middle", "fontSize": 9, "color": "#111"},
          "encoding": {"x": {"field": "a", "type": "quantitative"}, "y": {"field": "b", "type": "quantitative"}, "text": {"field": "t"}}
        }
      ]
    }
  ]
}
